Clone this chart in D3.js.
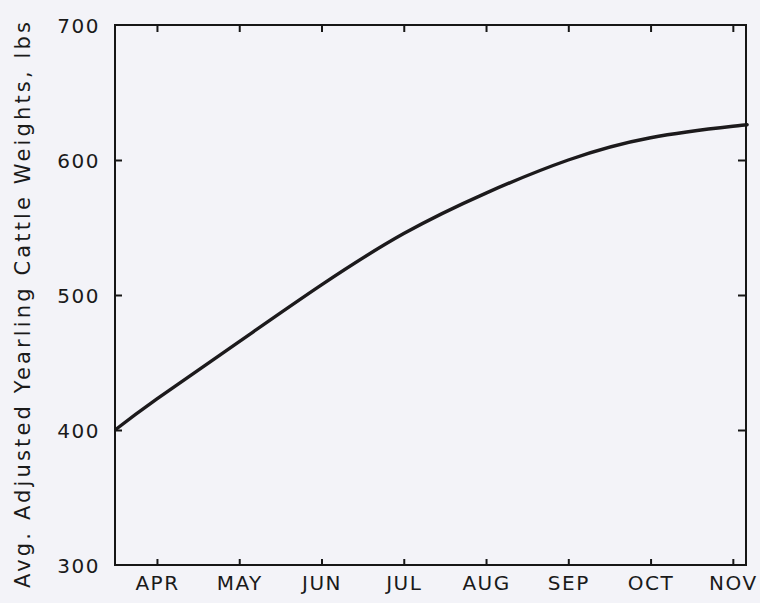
<!DOCTYPE html>
<html><head><meta charset="utf-8">
<script src="https://cdn.jsdelivr.net/npm/d3@7"></script>
<style>
html,body{margin:0;padding:0;background:#f3f3f8;}
svg{display:block;}
text{font-family:"DejaVu Sans",sans-serif;fill:#1a1a1a;}
</style></head>
<body>
<script>
// Month index: APR = 0 ... NOV = 7
const monthLabels = ["APR","MAY","JUN","JUL","AUG","SEP","OCT","NOV"];
const monthIndex = [0,1,2,3,4,5,6,7];
const weightTicks = [300,400,500,600,700];
const curveMonths = [-0.51, 0, 1, 2, 3, 4, 5, 6, 7, 7.16];
const curveWeights = [400, 423, 465.5, 507.5, 545.5, 575.5, 600, 616.5, 625, 626];
const yTitle = "Avg. Adjusted Yearling Cattle Weights, lbs";

(function () {
const W = 760, H = 603;
const L = 115, R = 746, T = 25, B = 565;
const svg = d3.select("body").append("svg").attr("width", W).attr("height", H);

const x = d3.scaleLinear().domain([-0.51, 7.16]).range([L, R]);
const y = d3.scaleLinear().domain([300, 700]).range([B, T]);

// curve
const pts = curveMonths.map((m, i) => [m, curveWeights[i]]);
svg.append("path")
  .attr("d", d3.line().x(d => x(d[0])).y(d => y(d[1])).curve(d3.curveNatural)(pts))
  .attr("fill", "none").attr("stroke", "#1c1a1c").attr("stroke-width", 3.4)
  .attr("stroke-linecap", "butt");

// frame
svg.append("rect").attr("x", L).attr("y", T).attr("width", R - L).attr("height", B - T)
  .attr("fill", "none").attr("stroke", "#161616").attr("stroke-width", 2);

// axes (ticks inward)
const gBottom = svg.append("g").attr("transform", `translate(0,${B})`)
  .call(d3.axisBottom(x).tickValues(monthIndex).tickSize(-6).tickPadding(11)
    .tickFormat((d, i) => monthLabels[i]));
const gTop = svg.append("g").attr("transform", `translate(0,${T})`)
  .call(d3.axisTop(x).tickValues(monthIndex).tickSize(-7).tickFormat(""));
const gLeft = svg.append("g").attr("transform", `translate(${L},0)`)
  .call(d3.axisLeft(y).tickValues(weightTicks).tickSize(-7).tickPadding(15));
const gRight = svg.append("g").attr("transform", `translate(${R},0)`)
  .call(d3.axisRight(y).tickValues([400,500,600]).tickSize(-8).tickFormat(""));

[gBottom, gTop, gLeft, gRight].forEach(g => {
  g.select(".domain").remove();
  g.selectAll(".tick line").attr("stroke", "#161616").attr("stroke-width", 2);
  g.selectAll("text").style("font-size", "20px").style("letter-spacing", "1.5px").attr("fill", "#1a1a1a");
});
gLeft.selectAll(".tick").filter(d => d === 300 || d === 700).select("line").remove();
gLeft.selectAll("text").attr("dy", "0.36em");

svg.append("text")
  .attr("transform", `translate(30,${(T + B) / 2 + 10}) rotate(-90)`)
  .attr("text-anchor", "middle")
  .attr("textLength", 566)
  .attr("lengthAdjust", "spacing")
  .style("font-size", "21px")
  .text(yTitle);
})();
</script>
</body></html>
